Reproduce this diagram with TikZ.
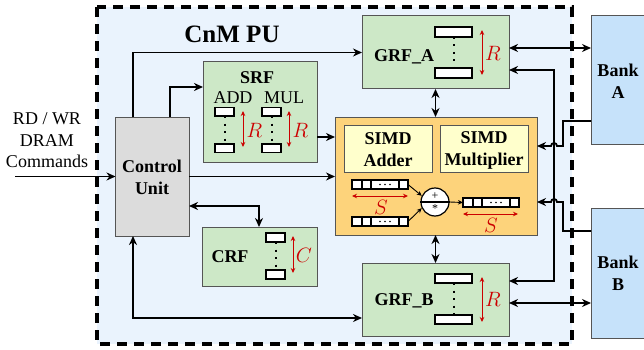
\documentclass[tikz,border=0pt]{standalone}
\usepackage{fontspec}
\setmainfont{Liberation Serif}
\usetikzlibrary{arrows.meta,calc}
\definecolor{bgblue}{HTML}{EAF3FD}
\definecolor{grn}{HTML}{CDE8C7}
\definecolor{gry}{HTML}{DCDCDC}
\definecolor{org}{HTML}{FDD37B}
\definecolor{ylw}{HTML}{FFFFCC}
\definecolor{bnk}{HTML}{C6E2FA}
\definecolor{rd}{HTML}{CC0000}
\definecolor{edge}{HTML}{555555}
\begin{document}
\begin{tikzpicture}[x=1pt,y=-1pt,
  box/.style={draw=edge, line width=1pt, inner sep=0pt, outer sep=0pt, anchor=north west},
  conn/.style={line width=1.8pt, -{Stealth[length=9pt,width=8pt]}},
  dconn/.style={line width=1.8pt, {Stealth[length=9pt,width=8pt]}-{Stealth[length=9pt,width=8pt]}},
  sconn/.style={line width=0.9pt, -{Stealth[length=5pt,width=4.5pt]}},
  rarr/.style={draw=rd, line width=1pt, {Stealth[length=5pt,width=4.5pt]}-{Stealth[length=5pt,width=4.5pt]}},
  rlab/.style={text=rd, font=\fontsize{20.5}{22}\selectfont, inner sep=0pt},
  bl/.style={font=\fontsize{18}{22}\selectfont\bfseries, align=center, inner sep=0pt},
  rl/.style={font=\fontsize{18}{21.5}\selectfont, align=center, inner sep=0pt},
  reg/.style={draw=black, line width=1.2pt, fill=white},
  vdot/.style={line width=2pt, dash pattern=on 2pt off 5.5pt},
  vec/.style={draw=black, line width=1.2pt, fill=white, inner sep=0pt, outer sep=0pt, minimum width=56pt, minimum height=9pt, anchor=north west}
]
\useasboundingbox (0,0) rectangle (644,350);
% PU background and border
\fill[bgblue] (97,7) rectangle (572,344);
\draw[line width=3.5pt, dash pattern=on 10pt off 7pt] (97,7) rectangle (572,344);
\node[font=\fontsize{25}{28}\selectfont\bfseries, inner sep=0pt] (title) at (232,34) {CnM PU};

% boxes
\node[box, fill=gry, minimum width=73.5pt, minimum height=119pt] (cu) at (115.5,117) {};
\node[box, fill=grn, minimum width=114pt, minimum height=100pt] (srf) at (203,62) {};
\node[box, fill=grn, minimum width=147pt, minimum height=73pt] (grfa) at (362,16) {};
\node[box, fill=org, minimum width=202pt, minimum height=118pt] (simd) at (335,117) {};
\node[box, fill=ylw, minimum width=88pt, minimum height=47pt] (add) at (344,125) {};
\node[box, fill=ylw, minimum width=88pt, minimum height=47pt] (mul) at (440,125) {};
\node[box, fill=grn, minimum width=115pt, minimum height=59pt] (crf) at (202,227) {};
\node[box, fill=grn, minimum width=147pt, minimum height=73pt] (grfb) at (362,263) {};
\node[box, fill=bnk, minimum width=60pt, minimum height=128pt] (banka) at (591,16) {};
\node[box, fill=bnk, minimum width=60pt, minimum height=130pt] (bankb) at (591,208) {};

% labels
\node[rl] (cmd) at (47,140.5) {RD / WR\\DRAM\\Commands};
\node[bl] (cut) at (152,177) {Control\\Unit};
\node[bl] (srft) at (257,78) {SRF};
\node[rl] (addt) at (233,98) {ADD};
\node[rl] (mult) at (284,98) {MUL};
\node[bl] (crft) at (230,257) {CRF};
\node[bl] (grfat) at (404,57) {GRF\_A};
\node[bl] (grfbt) at (404,301) {GRF\_B};
\node[bl] (addert) at (388,150) {SIMD\\Adder};
\node[bl] (multt) at (484,150) {SIMD\\Multiplier};
\node[bl] (bankat) at (618,81.5) {Bank\\A};
\node[bl] (bankbt) at (618,273) {Bank\\B};

% GRF_A registers
\draw[vdot] (454,37) -- (454,68);
\draw[reg] (435,27) rectangle (472,37);
\draw[reg] (435,68) rectangle (472,78);
\draw[rarr] (482,30) -- (482,75);
\node[rlab] (ra) at (493,53) {$R$};
% GRF_B registers
\draw[vdot] (454,283) -- (454,315);
\draw[reg] (435,274) rectangle (472,283);
\draw[reg] (435,315) rectangle (472,324);
\draw[rarr] (482,277) -- (482,322);
\node[rlab] (rb) at (493,299) {$R$};
% SRF registers
\draw[vdot] (224.5,116) -- (224.5,144);
\draw[reg] (215,107.5) rectangle (234,116);
\draw[reg] (215,144) rectangle (234,152.5);
\draw[rarr] (243,111) -- (243,147);
\node[rlab] (rs1) at (254.5,130) {$R$};
\draw[vdot] (271.5,116) -- (271.5,144);
\draw[reg] (262,107.5) rectangle (281,116);
\draw[reg] (262,144) rectangle (281,152.5);
\draw[rarr] (289,111) -- (289,147);
\node[rlab] (rs2) at (300.5,130) {$R$};
% CRF registers
\draw[vdot] (275.5,242) -- (275.5,270);
\draw[reg] (266,233) rectangle (285,242);
\draw[reg] (266,270) rectangle (285,279);
\draw[rarr] (293,236) -- (293,273);
\node[rlab] (rc) at (304,255) {$C$};

% SIMD vectors
\foreach \n/\x/\y in {v1/352/180, v2/352/217, v3/463/198}{
  \node[vec] (\n) at (\x,\y) {};
  \draw[line width=1.2pt] ($(\n.north west)+(10,0)$) -- ($(\n.south west)+(10,0)$);
  \draw[line width=1.2pt] ($(\n.north west)+(19,0)$) -- ($(\n.south west)+(19,0)$);
  \draw[line width=1.2pt] ($(\n.north west)+(47,0)$) -- ($(\n.south west)+(47,0)$);
  \foreach \d in {28,33,38}{\fill ($(\n.west)+(\d,0)$) circle (0.9pt);}
}
\node[draw=black, line width=1.2pt, fill=white, circle, minimum size=28pt, inner sep=0pt] (op) at (435,202) {};
\draw[line width=1.2pt] (op.west) -- (op.east);
\node[font=\fontsize{12}{12}\selectfont, inner sep=0pt] (plus) at (435,196) {+};
\node[font=\fontsize{12}{12}\selectfont, inner sep=0pt] (star) at (435,209) {*};
\draw[sconn] (v1.east) -- (op.155);
\draw[sconn] (v2.east) -- (op.205);
\draw[sconn] (op.east) -- (v3.west);
\draw[rarr] (352,196) -- (408,196);
\node[rlab] (s1) at (381,207) {$S$};
\draw[rarr] (463,214) -- (518,214);
\node[rlab] (s2) at (491,225) {$S$};

% connectors
\coordinate (in) at (15,176.5);
\draw[conn] (in) -- (in -| cu.west);
\draw[conn] ($(cu.north west)+(17.5,0)$) |- (grfa.west);
\draw[conn] ($(cu.north west)+(54.5,0)$) |- ($(srf.north west)+(0,25)$);
\coordinate (s1o) at ($(srf.north east)+(0,75)$);
\draw[conn] (s1o) -- (s1o -| simd.west);
\draw[conn] (cu.east) -- (cu.east -| simd.west);
\draw[dconn] ($(cu.north east)+(0,89)$) -| ($(crf.north west)+(57,0)$);
\draw[dconn] ($(cu.south west)+(17.5,0)$) |- ($(grfb.north west)+(0,55)$);
\draw[dconn] (grfa.south) -- (grfa.south |- simd.north);
\draw[dconn] (grfb.north) -- (grfb.north |- simd.south);
\coordinate (ga1) at ($(grfa.north east)+(0,32)$);
\draw[dconn] (ga1) -- (ga1 -| banka.west);
\coordinate (gb1) at ($(grfb.north east)+(0,40)$);
\draw[dconn] (gb1) -- (gb1 -| bankb.west);
% bus to both GRFs
\coordinate (bus) at (554,0);
\coordinate (ga2) at ($(grfa.north east)+(0,54)$);
\coordinate (gb2) at ($(grfb.north east)+(0,18)$);
\draw[dconn] (ga2) -- (ga2 -| bus) -- (bus |- gb2) -- (gb2);
% banks to SIMD with hops
\coordinate (ba1) at ($(banka.north west)+(0,105)$);
\coordinate (bb1) at ($(bankb.north west)+(0,23)$);
\coordinate (jog) at (563,0);
\coordinate (sa) at ($(simd.north east)+(0,29)$);
\coordinate (sb) at ($(simd.north east)+(0,85)$);
\draw[conn] (ba1) -- (ba1 -| jog) -- (jog |- sa) -- ($(sa -| bus)+(3,0)$) arc[start angle=0, end angle=-180, radius=3] -- (sa);
\draw[conn] (bb1) -- (bb1 -| jog) -- (jog |- sb) -- ($(sb -| bus)+(3,0)$) arc[start angle=0, end angle=-180, radius=3] -- (sb);
\end{tikzpicture}
\end{document}
